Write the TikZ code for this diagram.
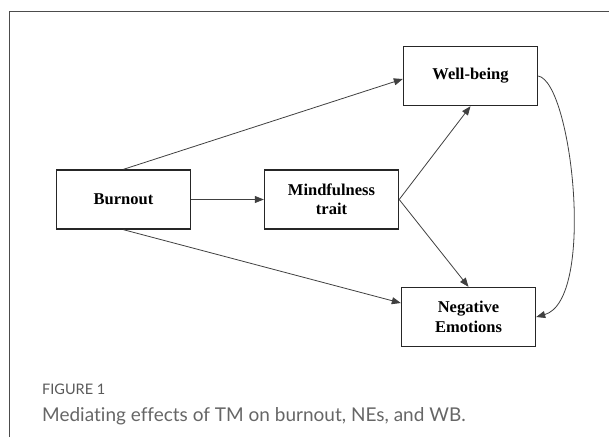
\documentclass[tikz,border=0pt]{standalone}
\usepackage{fontspec}
\setmainfont{Liberation Serif}
\newfontfamily\capfont[Ligatures={NoCommon}]{Lato}
\usetikzlibrary{arrows.meta}
\begin{document}
\begin{tikzpicture}[x=1pt,y=-1pt,
  boxnode/.style={draw=black!85, line width=1.4pt, minimum width=134pt, minimum height=59pt,
    align=center, inner sep=0pt, font=\fontsize{16.5}{19.5}\selectfont\bfseries},
  link/.style={draw=black!75, line width=0.8pt, -{Triangle[length=9pt,width=7pt]}}]
\useasboundingbox (0,0) rectangle (609,437);
\draw[black!70, line width=1pt] (9,437) -- (9,11) -- (609,11);
\node[boxnode] (wb) at (470.5,76) {Well-being};
\node[boxnode] (bo) at (123.5,199.5) {Burnout};
\node[boxnode] (mt) at (331.5,199.5) {Mindfulness\\trait};
\node[boxnode] (ne) at (468.5,317) {Negative\\Emotions};
\draw[link] (bo.north) -- ([yshift=-3pt]wb.west);
\draw[link] (bo.east) -- (mt.west);
\draw[link] (bo.south) -- ([yshift=14pt]ne.west);
\draw[link] (mt.east) -- (wb.south);
\draw[link] (mt.east) -- (ne.north);
\draw[link] (wb.east) .. controls (572,82) and (596,300) .. (ne.east);
\node[anchor=base west, inner sep=0pt, text=black!65, font=\capfont\fontsize{14.5}{17}\selectfont] (fig) at (42,394) {FIGURE 1};
\node[anchor=base west, inner sep=0pt, text=black!60, font=\capfont\fontsize{19}{22}\selectfont] (cap) at (42,421.5) {Mediating effects of TM on burnout, NEs, and WB.};
\end{tikzpicture}
\end{document}
